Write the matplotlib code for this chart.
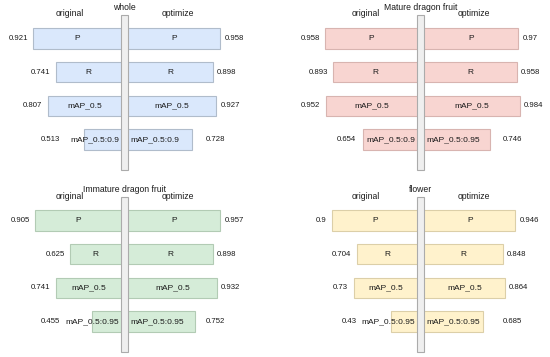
import matplotlib
matplotlib.use("Agg")
import matplotlib.pyplot as plt
from matplotlib.patches import Rectangle

plt.rcParams['font.family'] = ['Liberation Sans', 'DejaVu Sans']

# data
titles = ["whole", "Mature dragon fruit", "Immature dragon fruit", "flower"]
metrics = ["P", "R", "mAP_0.5"]
left_last = ["mAP_0.5:0.9", "mAP_0.5:0.9", "mAP_0.5:0.95", "mAP_0.5:0.95"]
right_last = ["mAP_0.5:0.9", "mAP_0.5:0.95", "mAP_0.5:0.95", "mAP_0.5:0.95"]

whole_orig = [0.921, 0.741, 0.807, 0.513]
whole_opt = [0.958, 0.898, 0.927, 0.728]
mature_orig = [0.958, 0.893, 0.952, 0.654]
mature_opt = [0.97, 0.958, 0.984, 0.746]
immature_orig = [0.905, 0.625, 0.741, 0.455]
immature_opt = [0.957, 0.898, 0.932, 0.752]
flower_orig = [0.9, 0.704, 0.73, 0.43]
flower_opt = [0.946, 0.848, 0.864, 0.685]

orig_vals = [whole_orig, mature_orig, immature_orig, flower_orig]
opt_vals = [whole_opt, mature_opt, immature_opt, flower_opt]

fills = ["#dae8fc", "#f8d5d1", "#d5ecd8", "#fff2cc"]
edges = ["#b0bccb", "#d8b4b0", "#b2cbb4", "#dccfa8"]

W, H = 550, 357
base, xmax, scale = 0.22, 1.05, 125.0   # px per unit score
span = (xmax - base) * scale


def fbox(x, y, w, h):
    # pixel box (y from top) -> figure fraction
    return [x / W, 1 - (y + h) / H, w / W, h / H]


fig = plt.figure(figsize=(5.5, 3.57), dpi=100)

centers = [(124.5, 0), (421.0, 0), (124.5, 182), (421.0, 182)]
tc = "#1a1a1a"

for k in range(4):
    cx, dy = centers[k]
    top, height = 15 + dy, 155
    axl = fig.add_axes(fbox(cx - 3.5 - span, top, span, height))
    axr = fig.add_axes(fbox(cx + 3.5, top, span, height))
    labels_l = metrics + [left_last[k]]
    labels_r = metrics + [right_last[k]]
    ys = range(4)

    for ax, vals, labs, side in [(axl, orig_vals[k], labels_l, -1),
                                 (axr, opt_vals[k], labels_r, 1)]:
        ax.barh(ys, vals, height=0.61, color=fills[k], edgecolor=edges[k],
                linewidth=0.8)
        ax.set_xlim(base, xmax)
        ax.set_ylim(3.906, -0.698)
        if side < 0:
            ax.invert_xaxis()
        ax.axis("off")
        ha_out = "left" if side > 0 else "right"
        for i, v in enumerate(vals):
            if i < 3:
                ax.text((base + v) / 2, i, labs[i], ha="center", va="center",
                        fontsize=6, color=tc)
                ax.annotate(f"{v:g}", xy=(v, i), xytext=(3 * side if side > 0 else -4, 0),
                            textcoords="offset points", ha=ha_out,
                            va="center", fontsize=5.6, color=tc,
                            annotation_clip=False)
            else:
                ax.annotate(labs[i], xy=(base, i), xytext=(1.5 * side, 0),
                            textcoords="offset points", ha=ha_out,
                            va="center", fontsize=6, color=tc)
                lim = base + (74 if side > 0 else 57) / scale
                ax.annotate(f"{v:g}", xy=(max(v, lim), i), xytext=(3 * side, 0),
                            textcoords="offset points", ha=ha_out,
                            va="center", fontsize=5.6, color=tc,
                            annotation_clip=False)

    # centre pillar
    fig.add_artist(Rectangle(((cx - 3.5) / W, 1 - (top + height) / H), 7 / W, height / H,
                             transform=fig.transFigure, facecolor="#efefef",
                             edgecolor="#ababab", linewidth=0.8))
    fig.text(cx / W, 1 - (8 + dy) / H, titles[k], ha="center", va="center",
             fontsize=6.2, color=tc)
    fig.text((cx - 55) / W, 1 - (14 + dy) / H, "original", ha="center", va="center",
             fontsize=6.2, color=tc)
    fig.text((cx + 53) / W, 1 - (14 + dy) / H, "optimize", ha="center", va="center",
             fontsize=6.2, color=tc)

fig.savefig("out.png", dpi=100)
